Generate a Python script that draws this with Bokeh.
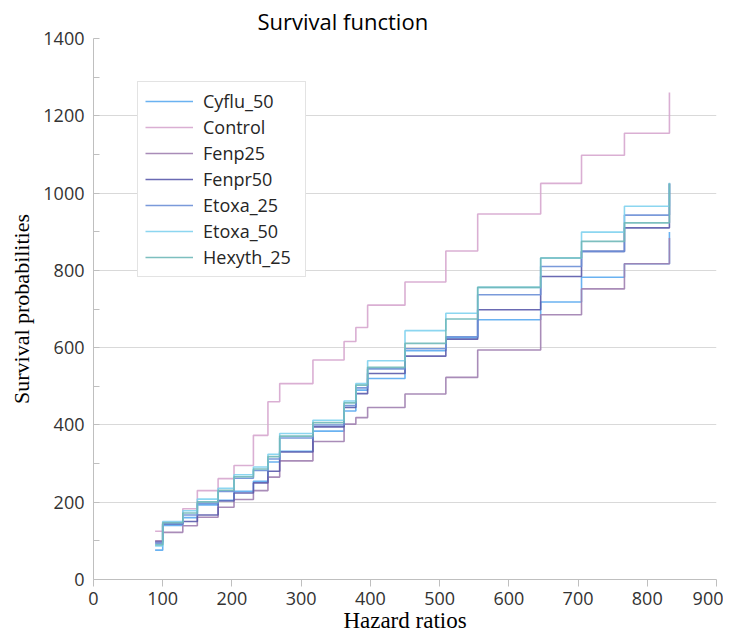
from bokeh.plotting import figure
from bokeh.models import Range1d, SingleIntervalTicker, Legend, LegendItem
from bokeh.embed import file_html
from bokeh.resources import INLINE

# ---- data ----
hazard_ratios = [89, 100, 129, 150, 180, 203, 231, 252, 269, 317, 362, 379,
                 396, 450, 509, 555, 646, 705, 767, 832]

cyflu_50 = [76, 140, 160, 193, 205, 228, 254, 304, 332, 384, 436, 490,
            520, 592, 626, 672, 718, 782, 817, 899]
control = [125, 148, 183, 230, 261, 295, 373, 460, 507, 568, 616, 652,
           710, 770, 850, 946, 1025, 1098, 1155, 1260]
fenp25 = [100, 122, 139, 161, 187, 207, 230, 265, 307, 357, 402, 419,
          445, 480, 523, 594, 685, 752, 817, 884]
fenpr50 = [97, 143, 150, 167, 203, 224, 250, 280, 330, 395, 445, 481,
           533, 578, 622, 698, 784, 849, 910, 1025]
etoxa_25 = [94, 144, 167, 197, 228, 262, 282, 312, 366, 400, 450, 496,
            545, 597, 628, 737, 810, 849, 943, 1025]
etoxa_50 = [87, 150, 178, 208, 236, 271, 291, 324, 378, 412, 462, 507,
            566, 644, 689, 756, 832, 899, 966, 1027]
hexyth_25 = [90, 147, 172, 201, 231, 266, 286, 318, 371, 406, 457, 503,
             549, 611, 674, 756, 832, 875, 923, 1025]

series_names = ["Cyflu_50", "Control", "Fenp25", "Fenpr50",
                "Etoxa_25", "Etoxa_50", "Hexyth_25"]
series_values = [cyflu_50, control, fenp25, fenpr50, etoxa_25, etoxa_50, hexyth_25]
series_colors = ["#5aaaf0", "#d6a6ce", "#a07fb0", "#5a5aab",
                 "#6b8fd6", "#80d2ee", "#6fb8b8"]

title_text = "Survival function"
x_label = "Hazard ratios"
y_label = "Survival probabilities"
x_ticks_step = 100
y_ticks_step = 200

# ---- figure ----
p = figure(width=723, height=635, output_backend="svg", toolbar_location=None,
           x_range=Range1d(0, 900), y_range=Range1d(0, 1400),
           min_border_left=93, min_border_right=7, min_border_top=36,
           min_border_bottom=20)
p.outline_line_color = None
p.background_fill_color = "white"
p.border_fill_color = "white"

p.title.text = title_text
p.title.text_font = "Open Sans"
p.title.text_font_size = "22px"
p.title.text_font_style = "normal"
p.title.text_color = "#000000"
p.title.align = "left"
p.title.offset = 164
p.title.standoff = 6

# axes
p.xaxis.ticker = SingleIntervalTicker(interval=x_ticks_step, num_minor_ticks=0)
p.yaxis.ticker = SingleIntervalTicker(interval=y_ticks_step, num_minor_ticks=2)
for ax in (p.xaxis[0], p.yaxis[0]):
    ax.axis_line_color = "#bfbfbf"
    ax.major_tick_line_color = "#bfbfbf"
    ax.minor_tick_line_color = "#bfbfbf"
    ax.major_label_text_font = "Open Sans"
    ax.major_label_text_font_size = "18px"
    ax.major_label_text_color = "#333333"
    ax.axis_label_text_font = "Liberation Serif"
    ax.axis_label_text_font_style = "normal"
    ax.axis_label_text_color = "#000000"

p.xaxis.axis_label = x_label
p.xaxis.axis_label_text_font_size = "23px"
p.xaxis.major_tick_in = 0
p.xaxis.major_tick_out = 7
p.xaxis.major_label_standoff = 5
p.xaxis.axis_label_standoff = 0

p.yaxis.axis_label = y_label
p.yaxis.axis_label_text_font_size = "22px"
p.yaxis.major_tick_in = 0
p.yaxis.major_tick_out = 0
p.yaxis.minor_tick_in = 6
p.yaxis.minor_tick_out = 0
p.yaxis.major_label_standoff = 9
p.yaxis.axis_label_standoff = 6

p.xgrid.grid_line_color = None
p.ygrid.grid_line_color = "#d9d9d9"
p.ygrid.grid_line_width = 1

items = []
for name, vals, col in zip(series_names, series_values, series_colors):
    r = p.step(hazard_ratios, vals, mode="after", line_color=col,
               line_width=1.6, line_alpha=0.9)
    items.append(LegendItem(label=name, renderers=[r]))

legend = Legend(items=items, location=(44, 302))
legend.label_text_font = "Open Sans"
legend.label_text_font_size = "18px"
legend.label_text_color = "#262626"
legend.glyph_width = 48
legend.glyph_height = 20
legend.label_height = 20
legend.label_width = 95
legend.label_standoff = 10
legend.spacing = 2
legend.padding = 7
legend.margin = 0
legend.border_line_color = "#c8c8c8"
legend.border_line_width = 1
legend.background_fill_color = "white"
legend.background_fill_alpha = 1.0
p.add_layout(legend, "center")

open("out.html", "w").write(file_html(p, INLINE))
